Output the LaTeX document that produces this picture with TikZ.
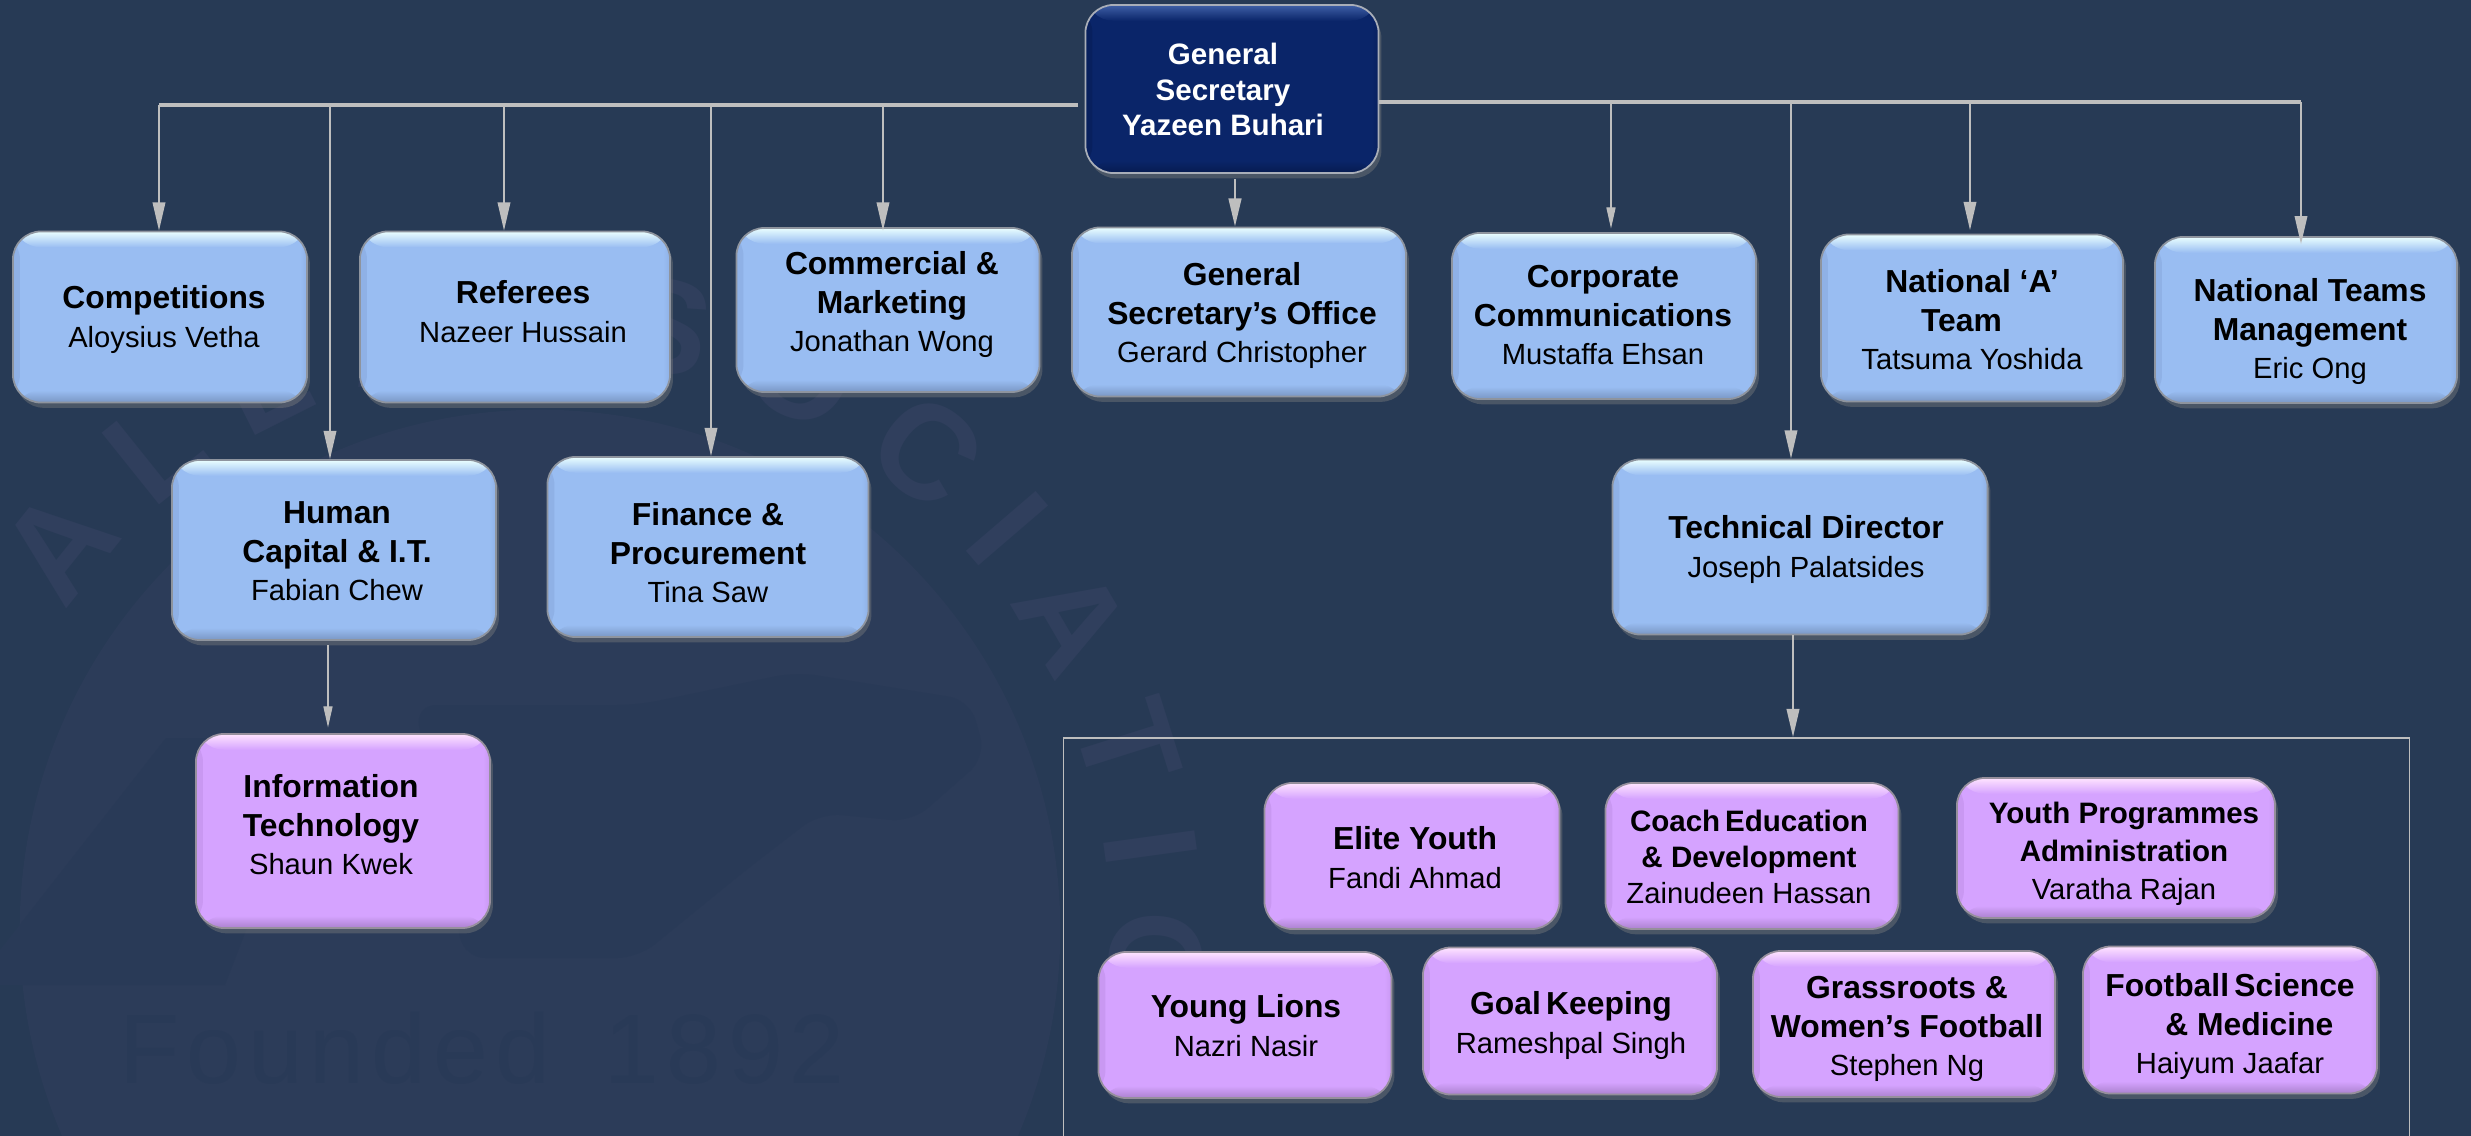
\documentclass[tikz,border=0pt]{standalone}
\usepackage{fontspec}
\setmainfont{Liberation Sans}
\usepackage{tikz}
\usetikzlibrary{arrows.meta,shadows,decorations.text}
\definecolor{bgblue}{HTML}{273A55}
\definecolor{discblue}{HTML}{2C3C59}
\definecolor{shapeblue}{HTML}{293A57}
\definecolor{markblue}{HTML}{303F5D}
\definecolor{linegrey}{HTML}{BEBEBE}
\definecolor{bluetop}{HTML}{EAFFFF}
\definecolor{bluemid}{HTML}{99BDF2}
\definecolor{blueedge}{HTML}{8FB1E6}
\definecolor{blueline}{HTML}{8E949E}
\definecolor{purpletop}{HTML}{FFE4FF}
\definecolor{purplemid}{HTML}{D5A3FF}
\definecolor{purpleedge}{HTML}{C998F2}
\definecolor{purpleline}{HTML}{968F9C}
\definecolor{darktop}{HTML}{3F5FA6}
\definecolor{darkmid}{HTML}{0A2569}
\definecolor{darkedge}{HTML}{08205E}
\definecolor{darkline}{HTML}{A9AEB8}
\newcommand{\hd}{\fontsize{9.05}{11}\selectfont\bfseries}
\newcommand{\hds}{\fontsize{8.4}{11}\selectfont\bfseries}
\newcommand{\nm}{\fontsize{8.3}{11}\selectfont}
% text of a box, moved by dx, dy pixels from the middle of the box
\newcommand{\boxlabel}[4][11pt]{\raisebox{\dimexpr-3.2pt-0.01cm*#3\relax}[0pt][0pt]{\makebox[0pt]{\hspace{\dimexpr0.02cm*#2\relax}\fontsize{9}{#1}\selectfont\begin{tabular}{@{}c@{}}#4\end{tabular}}}}
\tikzset{
	orgbox/.style n args={4}{rectangle, rounded corners=8pt, draw=#4, line width=0.5pt, inner sep=0pt,
		fill=#2, drop shadow={shadow xshift=0.8pt, shadow yshift=-1.5pt, opacity=0.4},
		path picture={
			\fill[left color=#3, right color=#2] (path picture bounding box.south west) rectangle ([xshift=2pt]path picture bounding box.north west);
			\fill[left color=#2, right color=#3] ([xshift=-2pt]path picture bounding box.south east) rectangle (path picture bounding box.north east);
			\fill[top color=#1, bottom color=#2] (path picture bounding box.north west) rectangle ([yshift=-4.5pt]path picture bounding box.north east);
			\fill[top color=#2, bottom color=#3!85!black] ([yshift=3.5pt]path picture bounding box.south west) rectangle (path picture bounding box.south east);
		}},
	bluebox/.style={orgbox={bluetop}{bluemid}{blueedge}{blueline}},
	purplebox/.style={orgbox={purpletop}{purplemid}{purpleedge}{purpleline}},
	darkbox/.style={orgbox={darktop}{darkmid}{darkedge}{darkline}, text=white},
	conn/.style={draw=linegrey, line width=0.4pt, -{Triangle[length=8pt,width=3.6pt]}},
	thinconn/.style={draw=linegrey, line width=0.3pt, -{Triangle[length=6pt,width=2.6pt]}},
	trunk/.style={draw=linegrey, line width=1pt},
}
\begin{document}
\begin{tikzpicture}[x=0.01cm,y=-0.01cm]
	\useasboundingbox (0,0) rectangle (2471,1136);
	\clip (0,0) rectangle (2471,1136);
	\fill[bgblue] (0,0) rectangle (2471,1136);
	% faint badge behind the chart
	\fill[discblue] (540,930) circle[radius=5.2cm];
	\fill[shapeblue, rounded corners=6pt] (796,672) -- (970,700) -- (986,757) -- (912,822) -- (820,813) -- (746,870) -- (638,958) -- (464,958) -- (415,705) -- (638,705) -- cycle;
	\fill[shapeblue] (166,738) -- (320,738) -- (225,985) -- (0,985) -- (0,950) -- cycle;
	\begin{scope}[x=1cm,y=1cm,shift={(5.4cm,-9.3cm)}]
		\path[decorate, decoration={text along path, text align=center, text color=markblue,
			text={|\fontsize{38}{38}\selectfont\bfseries|A  L  L   A  S  S  O C  I A  T  I  O}}] (145:5.7) arc (145:-7:5.7);
	\end{scope}
	\node[text=shapeblue, font=\fontsize{28}{28}\selectfont, inner sep=0pt] (founded) at (482,1048) {F\kern2pt o\kern2pt u\kern2pt n\kern2pt d\kern2pt e\kern2pt d\ \ 1\kern2pt 8\kern2pt 9\kern2pt 2};

	% top of the chart
	\node[darkbox, minimum width=2.93cm, minimum height=1.68cm] (gensec) at (1232,89) {\boxlabel[10.1pt]{-9}{1}{\hds General\\\hds Secretary\\\hds Yazeen Buhari}};

	% first row
	\node[bluebox, minimum width=2.94cm, minimum height=1.71cm] (competitions) at (160,317) {\boxlabel{4}{0}{\hd Competitions\\\nm Aloysius Vetha}};
	\node[bluebox, minimum width=3.10cm, minimum height=1.71cm] (referees) at (515,317) {\boxlabel{8}{-5}{\hd Referees\\\nm Nazeer Hussain}};
	\node[bluebox, minimum width=3.03cm, minimum height=1.64cm] (commercial) at (888,310) {\boxlabel{4}{-8}{\hd Commercial \&\\\hd Marketing\\\nm Jonathan Wong}};
	\node[bluebox, minimum width=3.34cm, minimum height=1.69cm] (gsoffice) at (1239,312) {\boxlabel{3}{1}{\hd General\\\hd Secretary’s Office\\\nm Gerard Christopher}};
	\node[bluebox, minimum width=3.04cm, minimum height=1.66cm] (corporate) at (1604,316) {\boxlabel{-1}{-1}{\hd Corporate\\\hd Communications\\\nm Mustaffa Ehsan}};
	\node[bluebox, minimum width=3.02cm, minimum height=1.67cm] (nationala) at (1972,318) {\boxlabel{0}{2}{\hd National ‘A’\\\hd Team\hspace*{6pt}\\\nm Tatsuma Yoshida}};
	\node[bluebox, minimum width=3.02cm, minimum height=1.66cm] (natteams) at (2306,320) {\boxlabel{4}{9}{\hd National Teams\\\hd Management\\\nm Eric Ong}};

	% second row
	\node[bluebox, minimum width=3.24cm, minimum height=1.80cm] (humancap) at (334,550) {\boxlabel{3}{1}{\hd Human\\\hd Capital \& I.T.\\\nm Fabian Chew}};
	\node[bluebox, minimum width=3.21cm, minimum height=1.80cm] (finance) at (708,547) {\boxlabel{0}{6}{\hd Finance \&\\\hd Procurement\\\nm Tina Saw}};
	\node[bluebox, minimum width=3.75cm, minimum height=1.75cm] (techdir) at (1800,547) {\boxlabel{6}{0}{\hd Technical Director\\\nm Joseph Palatsides}};
	\node[purplebox, minimum width=2.94cm, minimum height=1.94cm] (infotech) at (343,831) {\boxlabel{-12}{-6}{\hd Information\\\hd Technology\\\nm Shaun Kwek}};

	% the technical group
	\node[draw=linegrey, line width=0.45pt, minimum width=13.45cm, minimum height=6cm, inner sep=0pt] (techgroup) at (1736.5,1038) {};
	\node[purplebox, minimum width=2.95cm, minimum height=1.46cm] (eliteyouth) at (1412,856) {\boxlabel{3}{2}{\hd Elite Youth\\\nm Fandi Ahmad}};
	\node[purplebox, minimum width=2.93cm, minimum height=1.46cm] (coached) at (1752,856) {\boxlabel[10.3pt]{-3}{1}{\hds Coach\,Education\\\hds \& Development\\\nm Zainudeen Hassan}};
	\node[purplebox, minimum width=3.18cm, minimum height=1.40cm] (youthprog) at (2116,848) {\boxlabel[10.8pt]{8}{3}{\hds Youth Programmes\\\hds Administration\\\nm Varatha Rajan}};
	\node[purplebox, minimum width=2.93cm, minimum height=1.46cm] (younglions) at (1245,1025) {\boxlabel{1}{1}{\hd Young Lions\\\nm Nazri Nasir}};
	\node[purplebox, minimum width=2.94cm, minimum height=1.47cm] (goalkeep) at (1570,1021) {\boxlabel{1}{2}{\hd Goal\,Keeping\\\nm Rameshpal Singh}};
	\node[purplebox, minimum width=3.02cm, minimum height=1.46cm] (grassroots) at (1904,1024) {\boxlabel{3}{2}{\hd Grassroots \&\\\hd Women’s Football\\\nm Stephen Ng}};
	\node[purplebox, minimum width=2.94cm, minimum height=1.47cm] (footsci) at (2230,1020) {\boxlabel{0}{4}{\hd Football\,Science\\\hspace*{11pt}\hd \& Medicine\\\nm Haiyum Jaafar}};

	% left branch
	\coordinate (l1) at (159,105);
	\coordinate (l2) at (330,105);
	\coordinate (l3) at (504,105);
	\coordinate (l4) at (711,105);
	\coordinate (l5) at (883,105);
	\draw[trunk] (l1 -| gensec.west) ++(-7,0) -- (l1);
	\draw[conn] (l1) -- (l1 |- competitions.north);
	\draw[conn] (l2) -- (l2 |- humancap.north);
	\draw[conn] (l3) -- (l3 |- referees.north);
	\draw[conn] (l4) -- (l4 |- finance.north);
	\draw[conn, shorten >=-1pt] (l5) -- (l5 |- commercial.north);

	% right branch
	\coordinate (r1) at (1611,102);
	\coordinate (r2) at (1791,102);
	\coordinate (r3) at (1970,102);
	\coordinate (r4) at (2301,102);
	\draw[trunk] (r1 -| gensec.east) -- (r4);
	\draw[thinconn, shorten >=1pt] (r1) -- (r1 |- corporate.north);
	\draw[conn] (r2) -- (r2 |- techdir.north);
	\draw[conn, shorten >=1pt] (r3) -- (r3 |- nationala.north);
	\draw[conn, shorten >=-2.3pt] (r4) -- (r4 |- natteams.north);

	% single drops
	\coordinate (g1) at (1235,179);
	\coordinate (h1) at (328,645);
	\coordinate (t1) at (1793,635);
	\draw[conn, line width=0.7pt] (g1) -- (g1 |- gsoffice.north);
	\draw[thinconn, shorten >=1.6pt] (h1) -- (h1 |- infotech.north);
	\draw[conn, line width=0.55pt] (t1) -- (t1 |- techgroup.north);
\end{tikzpicture}
\end{document}
